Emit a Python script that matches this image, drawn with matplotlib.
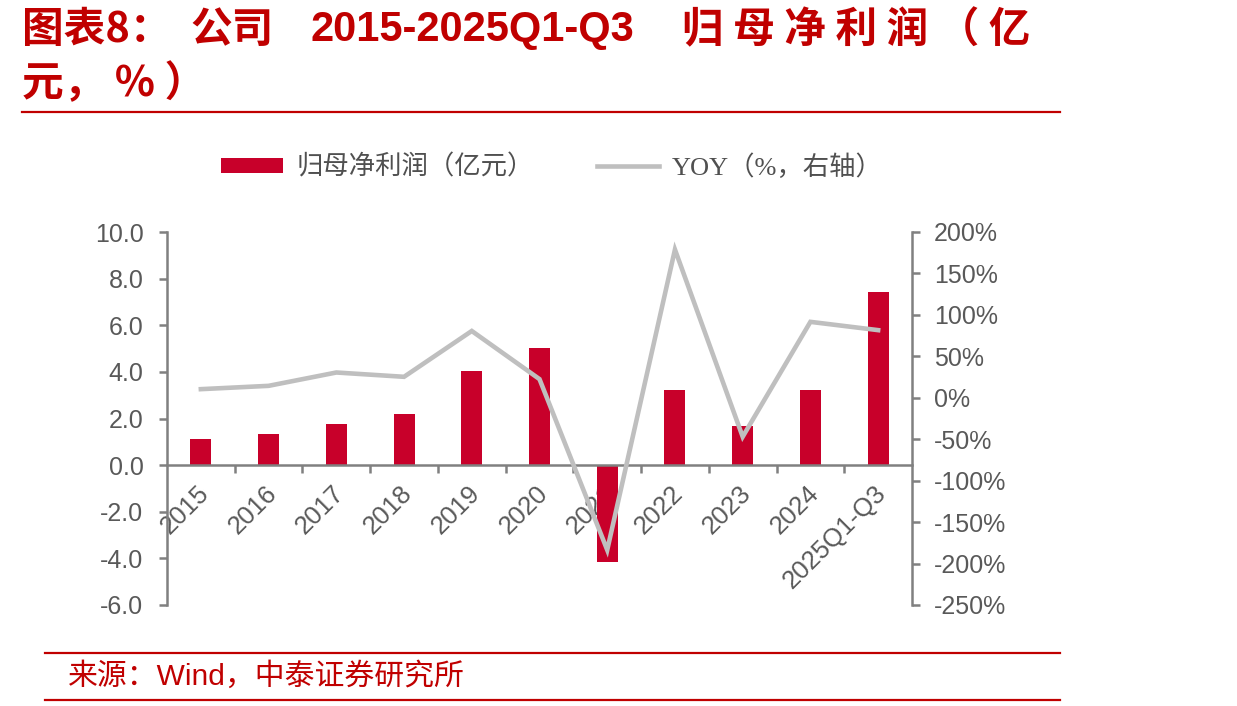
import matplotlib
matplotlib.use("Agg")
import matplotlib.pyplot as plt
import matplotlib.transforms as mtrans
from matplotlib.lines import Line2D
from matplotlib.patches import Patch
import numpy as np

plt.rcParams['font.family'] = ['Liberation Sans', 'Noto Sans CJK SC']
plt.rcParams['axes.unicode_minus'] = False

categories = ['2015', '2016', '2017', '2018', '2019', '2020', '2021', '2022', '2023', '2024', '2025Q1-Q3']
profit = [1.13, 1.32, 1.75, 2.18, 4.02, 5.01, -4.16, 3.23, 1.68, 3.23, 7.42]
yoy = [10.4, 14.4, 30.5, 25.3, 80.6, 22.5, -183.6, 178.8, -47.0, 91.6, 81.6]
left_ticks = [-6, -4, -2, 0, 2, 4, 6, 8, 10]
left_labels = ['-6.0', '-4.0', '-2.0', '0.0', '2.0', '4.0', '6.0', '8.0', '10.0']
right_ticks = [-250, -200, -150, -100, -50, 0, 50, 100, 150, 200]
right_labels = ['-250%', '-200%', '-150%', '-100%', '-50%', '0%', '50%', '100%', '150%', '200%']

RED = '#C8002A'
GREY_LINE = '#BFBFBF'
AX_GREY = '#808080'
TXT_GREY = '#595959'
TITLE_RED = '#C00000'

W, H = 1237, 706
fig = plt.figure(figsize=(W / 100, H / 100), dpi=100)
fig.patch.set_facecolor('white')

L, R, T, B = 167, 912, 232, 605
ax = fig.add_axes([L / W, 1 - B / H, (R - L) / W, (B - T) / H])
ax2 = ax.twinx()

x = np.arange(len(categories))
ax.bar(x, profit, width=0.31, color=RED, zorder=2)
ax.set_xlim(-0.5, len(categories) - 0.5)
ax.set_ylim(-6, 10)
ax.set_yticks(left_ticks)
ax.set_yticklabels(left_labels)

ax2.plot(x, yoy, color=GREY_LINE, lw=3.3, solid_joinstyle='miter', zorder=3)
ax2.set_ylim(-250, 200)
ax2.set_yticks(right_ticks)
ax2.set_yticklabels(right_labels)

for a in (ax, ax2):
    a.spines['top'].set_visible(False)
    a.set_facecolor('none')
for s in ('left', 'right', 'bottom'):
    for a in (ax, ax2):
        a.spines[s].set_color(AX_GREY)
        a.spines[s].set_linewidth(1.8)
ax.spines['right'].set_visible(False)
ax2.spines['left'].set_visible(False)
ax2.spines['bottom'].set_visible(False)
ax.spines['bottom'].set_position(('data', 0))

ax.tick_params(axis='y', direction='out', length=6, width=1.8, color=AX_GREY,
               labelsize=18, labelcolor=TXT_GREY, pad=11)
ax2.tick_params(axis='y', direction='out', length=6, width=1.8, color=AX_GREY,
                labelsize=18, labelcolor=TXT_GREY, pad=10)

ax.set_xticks(x)
ax.set_xticks(x[:-1] + 0.5, minor=True)
ax.tick_params(axis='x', which='major', length=0, pad=0)
ax.tick_params(axis='x', which='minor', direction='out', length=6, width=1.8, color=AX_GREY)
ax.set_xticklabels(categories, rotation=45, ha='right', va='top', rotation_mode='anchor',
                   fontsize=18.5, color=TXT_GREY)
off = mtrans.ScaledTranslation(-4 / 100, -16 / 100, fig.dpi_scale_trans)
for lbl in ax.get_xticklabels():
    lbl.set_transform(lbl.get_transform() + off)

# legend
handles = [Patch(facecolor=RED, edgecolor='none'),
           Line2D([0], [0], color=GREY_LINE, lw=3.3)]
fig.legend(handles, ['归母净利润（亿元）', 'YOY（%，右轴）'], loc='center',
           bbox_to_anchor=(552 / W, 1 - 167 / H), ncol=2, frameon=False,
           prop={'family': ['Liberation Serif', 'Noto Sans CJK SC'], 'size': 19},
           handlelength=2.35, handleheight=0.5, handletextpad=0.5, columnspacing=2.4,
           labelcolor='#505050')

# title
tkw = dict(fontsize=30, fontweight='bold', color=TITLE_RED, va='center', ha='left')
fig.text(22 / W, 1 - 30 / H, '图表8：', family=['Noto Sans CJK SC'], **tkw)
fig.text(190 / W, 1 - 30 / H, '公司', family=['Noto Sans CJK SC'], **tkw)
fig.text(310 / W, 1 - 30 / H, '2015-2025Q1-Q3', family=['Liberation Sans'], **tkw)
fig.text(682 / W, 1 - 30 / H, '归 母 净 利 润 （ 亿', family=['Noto Sans CJK SC'], **tkw)
fig.text(22 / W, 1 - 84 / H, '元， % ）', family=['Noto Sans CJK SC'], **tkw)

# rules
for yy, x0 in [(112, 22), (653, 45), (700, 45)]:
    fig.add_artist(Line2D([x0 / W, 1060 / W], [1 - yy / H, 1 - yy / H], color=TITLE_RED, lw=1.6))

fig.text(68 / W, 1 - 676 / H, '来源：Wind，中泰证券研究所', fontsize=21.5, color=TITLE_RED,
         va='center', ha='left', family=['Liberation Sans', 'Noto Sans CJK SC'])

fig.savefig('out.png', dpi=100, facecolor='white')
